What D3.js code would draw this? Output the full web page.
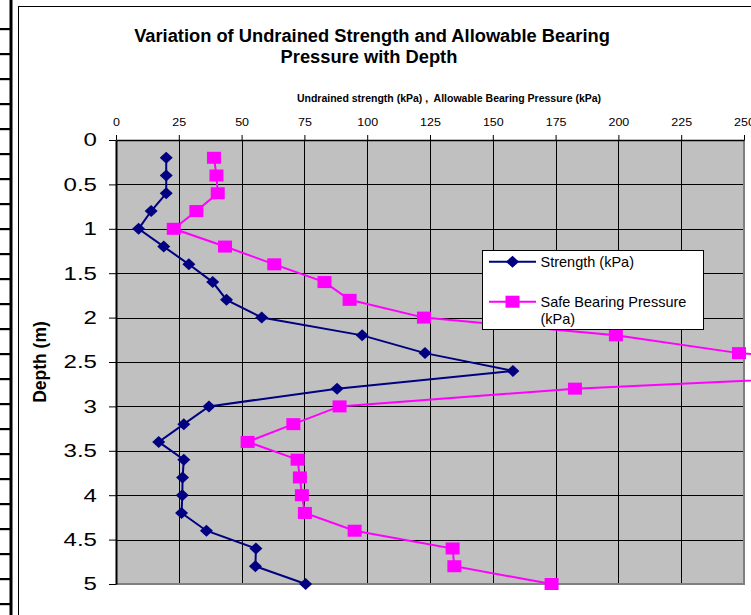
<!DOCTYPE html>
<html>
<head>
<meta charset="utf-8">
<script src="https://cdn.jsdelivr.net/npm/d3@7"></script>
<style>
  html, body { margin: 0; padding: 0; background: #fff; }
  svg { display: block; overflow: hidden; }
  text { font-family: Arial, "Liberation Sans", sans-serif; fill: #000; }
</style>
</head>
<body>
<svg id="chart" width="751" height="615"></svg>
<script>
// Depth (m) of each test point
const depths = [0.2, 0.4, 0.6, 0.8, 1.0, 1.2, 1.4, 1.6, 1.8, 2.0, 2.2, 2.4, 2.6,
                2.8, 3.0, 3.2, 3.4, 3.6, 3.8, 4.0, 4.2, 4.4, 4.6, 4.8, 5.0];
// Undrained shear strength (kPa)
const strength = [20, 20, 20, 14, 9, 19, 29, 38.5, 44, 58, 98, 123, 158,
                  88, 37, 27, 17, 27, 26.5, 26.4, 26.1, 36, 55.7, 55.5, 75.5];
// Safe (allowable) bearing pressure (kPa)
const bearing = [39, 40, 40.5, 32, 23, 43.4, 63, 83, 93, 122.6, 199, 248, 335,
                 182.7, 89, 70.6, 52.4, 72.3, 73.2, 74, 75.2, 95, 134, 134.7, 173.4];
const xTicks = [0, 25, 50, 75, 100, 125, 150, 175, 200, 225, 250];
const yTicks = [0, 0.5, 1, 1.5, 2, 2.5, 3, 3.5, 4, 4.5, 5];
const seriesNames = ["Strength (kPa)", "Safe Bearing Pressure", "(kPa)"];

const svg = d3.select("#chart");
const W = 751, H = 615;

// worksheet cell edges peeking out on the left
const sheet = svg.append("g");
sheet.append("rect").attr("x", 9.5).attr("y", 0).attr("width", 3).attr("height", H).attr("fill", "#000");
d3.range(29, H, 25).forEach(yy => {
  sheet.append("rect").attr("x", 0).attr("y", yy - 1).attr("width", 11).attr("height", 2.2).attr("fill", "#000");
});

// chart area frame
svg.append("rect").attr("x", 18.5).attr("y", 6.5).attr("width", W).attr("height", H)
  .attr("fill", "#fff").attr("stroke", "#000").attr("stroke-width", 1);

const x = d3.scaleLinear().domain([0, 250]).range([116, 744]);
const y = d3.scaleLinear().domain([0, 5]).range([140, 584]);

// plot area
svg.append("rect").attr("x", x(0)).attr("y", y(0))
  .attr("width", x(250) - x(0)).attr("height", y(5) - y(0))
  .attr("fill", "#c0c0c0");

// gridlines
const grid = svg.append("g").attr("stroke", "#000").attr("stroke-width", 1);
xTicks.slice(1, -1).forEach(v => {
  grid.append("line").attr("x1", Math.round(x(v)) + 0.5).attr("x2", Math.round(x(v)) + 0.5)
    .attr("y1", y(0)).attr("y2", y(5));
});
yTicks.slice(1, -1).forEach(v => {
  grid.append("line").attr("x1", x(0)).attr("x2", x(250))
    .attr("y1", Math.round(y(v)) + 0.5).attr("y2", Math.round(y(v)) + 0.5);
});

// right / bottom plot border
svg.append("path")
  .attr("d", `M${x(250)},${y(0)}V${y(5)}H${x(0)}`)
  .attr("fill", "none").attr("stroke", "#808080").attr("stroke-width", 2);

// top value axis
const xAxis = svg.append("g").attr("transform", `translate(0,${y(0)})`)
  .call(d3.axisTop(x).tickValues(xTicks).tickSize(5).tickPadding(9).tickSizeOuter(0));
xAxis.select(".domain").attr("stroke", "#000").attr("stroke-width", 1.5);
xAxis.selectAll("text").attr("font-size", 10).attr("font-family", "Arial, 'Liberation Sans', sans-serif")
  .each(function () {
    const t = d3.select(this);
    const yy = t.attr("y");
    t.attr("y", 0).attr("transform", `translate(0,${yy}) scale(1.25,1)`);
  });

// left depth axis
const yAxis = svg.append("g").attr("transform", `translate(${x(0)},0)`)
  .call(d3.axisLeft(y).tickValues(yTicks).tickSize(7).tickFormat(d => String(d)).tickSizeOuter(0));
yAxis.select(".domain").attr("stroke", "#000").attr("stroke-width", 2);
yAxis.selectAll("text").attr("font-size", 18.5).attr("font-family", "Arial, 'Liberation Sans', sans-serif")
  .attr("x", 0).attr("transform", "translate(-19,0) scale(1.3,1)");

// titles
const title = svg.append("text").attr("text-anchor", "middle")
  .attr("font-size", 18.3).attr("font-weight", "bold");
title.append("tspan").attr("x", 372).attr("y", 41.5).text("Variation of Undrained Strength and Allowable Bearing");
title.append("tspan").attr("x", 369).attr("y", 63.3).text("Pressure with Depth");

svg.append("text").attr("x", 449).attr("y", 101.5).attr("text-anchor", "middle")
  .attr("font-size", 10.5).attr("font-weight", "bold")
  .text("Undrained strength (kPa) ,\u00a0 Allowable Bearing Pressure (kPa)");

svg.append("text").attr("transform", `translate(46,${(y(0) + y(5)) / 2}) rotate(-90)`)
  .attr("text-anchor", "middle").attr("font-size", 17.5).attr("font-weight", "bold")
  .text("Depth (m)");

// series
const rows = depths.map((d, i) => ({ depth: d, s: strength[i], b: bearing[i] }));
const diamond = (cx, cy) => `M${cx},${cy - 6}L${cx + 6.5},${cy}L${cx},${cy + 6}L${cx - 6.5},${cy}Z`;

const lineB = d3.line().x(d => x(d.b)).y(d => y(d.depth));
const lineS = d3.line().x(d => x(d.s)).y(d => y(d.depth));

svg.append("path").datum(rows).attr("d", lineB)
  .attr("fill", "none").attr("stroke", "#ff00ff").attr("stroke-width", 2);
svg.append("g").selectAll("rect").data(rows).join("rect")
  .attr("x", d => x(d.b) - 7).attr("y", d => y(d.depth) - 6)
  .attr("width", 14).attr("height", 12).attr("fill", "#ff00ff");

svg.append("path").datum(rows).attr("d", lineS)
  .attr("fill", "none").attr("stroke", "#000080").attr("stroke-width", 2);
svg.append("g").selectAll("path").data(rows).join("path")
  .attr("d", d => diamond(x(d.s), y(d.depth))).attr("fill", "#000080");

// legend
const lg = svg.append("g");
lg.append("rect").attr("x", 482.5).attr("y", 250.5).attr("width", 221).attr("height", 79)
  .attr("fill", "#fff").attr("stroke", "#000").attr("stroke-width", 1);
lg.append("line").attr("x1", 489).attr("x2", 536).attr("y1", 261.7).attr("y2", 261.7)
  .attr("stroke", "#000080").attr("stroke-width", 2);
lg.append("path").attr("d", diamond(512.5, 261.7)).attr("fill", "#000080");
lg.append("text").attr("x", 540.5).attr("y", 267).attr("font-size", 14.5).text(seriesNames[0]);
lg.append("line").attr("x1", 489).attr("x2", 536).attr("y1", 301.7).attr("y2", 301.7)
  .attr("stroke", "#ff00ff").attr("stroke-width", 2);
lg.append("rect").attr("x", 505.5).attr("y", 295.7).attr("width", 14).attr("height", 12).attr("fill", "#ff00ff");
const lt = lg.append("text").attr("font-size", 14.5);
lt.append("tspan").attr("x", 540.5).attr("y", 306.7).text(seriesNames[1]);
lt.append("tspan").attr("x", 540.5).attr("y", 324).text(seriesNames[2]);
</script>
</body>
</html>
